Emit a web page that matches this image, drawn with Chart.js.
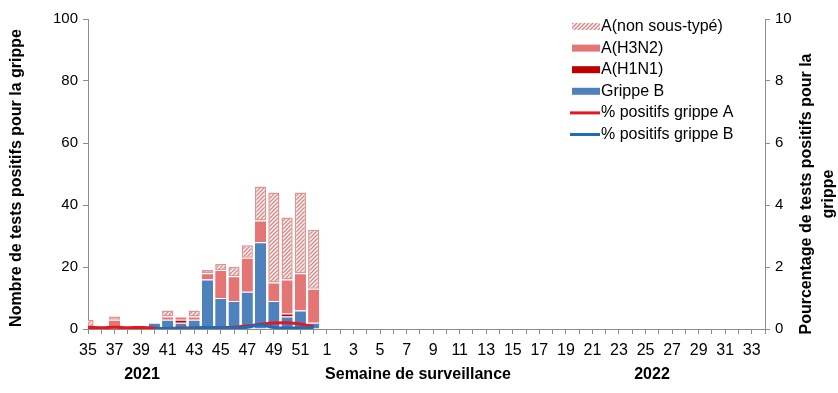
<!DOCTYPE html>
<html>
<head>
<meta charset="utf-8">
<script src="https://cdn.jsdelivr.net/npm/chart.js@4"></script>
<style>
  html, body { margin: 0; padding: 0; background: #fff; }
  #wrap { width: 838px; height: 393px; }
</style>
</head>
<body>
<div id="wrap"><canvas id="chart" width="838" height="393"></canvas></div>
<script>
// weeks 35..52 of 2021 then 1..34 of 2022
const weeks = ['35','36','37','38','39','40','41','42','43','44','45','46','47','48','49','50','51','52',
  '1','2','3','4','5','6','7','8','9','10','11','12','13','14','15','16','17','18','19','20',
  '21','22','23','24','25','26','27','28','29','30','31','32','33','34'];

// counts per week (weeks 35..52), later weeks have no data yet
const grippeB   = [0, 0, 0, 0, 0, 2, 3, 2, 3, 16, 10, 9, 12, 28, 9, 4, 6, 2];
const aH1N1     = [0, 0, 0, 0, 1, 0, 0, 1, 0, 0, 0, 0, 0, 0, 0, 1, 0, 0];
const aH3N2     = [1, 0, 3, 0, 0, 0, 1, 1, 1, 2, 9, 8, 11, 7, 6, 11, 12, 11];
const aNonSous  = [2, 0, 1, 0, 0, 0, 2, 0, 2, 1, 2, 3, 4, 11, 29, 20, 26, 19];

// % positives (right axis)
const pctA = [0.05, 0.04, 0.06, 0.04, 0.05, 0.03, 0.02, 0.03, 0.03, 0.04, 0.05, 0.06, 0.1, 0.15, 0.19, 0.2, 0.16, 0.07];
const pctB = [null, null, null, null, null, 0.01, 0.02, 0.02, 0.03, 0.05, 0.04, 0.04, 0.06, 0.13, 0.05, 0.03, 0.04, 0.03];

const leftTicks = [0, 20, 40, 60, 80, 100];
const rightTicks = [0, 2, 4, 6, 8, 10];

const FONT = "'Liberation Sans', Arial, sans-serif";
const AXIS = '#8c8c8c';

function pad(arr) {
    return weeks.map((w, i) => (i < arr.length ? arr[i] : null));
}

// hatch pattern for A(non sous-typé)
function hatch() {
    const c = document.createElement('canvas');
    c.width = 4; c.height = 4;
    const g = c.getContext('2d');
    g.fillStyle = '#ffffff';
    g.fillRect(0, 0, 4, 4);
    g.strokeStyle = '#de8886';
    g.lineWidth = 1.5;
    g.beginPath();
    g.moveTo(-1, 5); g.lineTo(5, -1);
    g.moveTo(-1, 1); g.lineTo(1, -1);
    g.moveTo(3, 5); g.lineTo(5, 3);
    g.stroke();
    return g.createPattern(c, 'repeat');
}
const hatchFill = hatch();

const sepBorder = { top: 1, right: 0, bottom: 0, left: 0 };

const legendItems = [
    { label: 'A(non sous-typé)', kind: 'hatch' },
    { label: 'A(H3N2)', kind: 'bar', color: '#e57574' },
    { label: 'A(H1N1)', kind: 'bar', color: '#c00000' },
    { label: 'Grippe B', kind: 'bar', color: '#4f81bd' },
    { label: '% positifs grippe A', kind: 'line', color: '#e8151c' },
    { label: '% positifs grippe B', kind: 'line', color: '#1f6db8' }
];

// titles and legend drawn by hand to sit where the original has them
const decorations = {
    id: 'decorations',
    afterDraw(chart) {
        const ctx = chart.ctx;
        ctx.save();
        ctx.fillStyle = '#000';
        ctx.textAlign = 'center';
        ctx.textBaseline = 'middle';
        ctx.font = 'bold 16px ' + FONT;

        ctx.save();
        ctx.translate(17, 178);
        ctx.rotate(-Math.PI / 2);
        ctx.fillText('Nombre de tests positifs pour la grippe', 0, 0);
        ctx.restore();

        ctx.save();
        ctx.translate(807, 194);
        ctx.rotate(-Math.PI / 2);
        ctx.fillText('Pourcentage de tests positifs pour la', 0, 0);
        ctx.fillText('grippe', 0, 22);
        ctx.restore();

        ctx.fillText('2021', 142, 375);
        ctx.fillText('Semaine de surveillance', 418, 375);
        ctx.fillText('2022', 652, 375);

        // legend
        ctx.textAlign = 'left';
        ctx.font = '16px ' + FONT;
        legendItems.forEach((it, i) => {
            const y = 26.5 + i * 21.6;
            if (it.kind === 'line') {
                ctx.strokeStyle = it.color;
                ctx.lineWidth = 3;
                ctx.beginPath();
                ctx.moveTo(570, y);
                ctx.lineTo(600, y);
                ctx.stroke();
            } else if (it.kind === 'hatch') {
                ctx.fillStyle = hatchFill;
                ctx.fillRect(572, y - 3.5, 28, 7);
            } else {
                ctx.fillStyle = it.color;
                ctx.fillRect(572, y - 3.5, 28, 7);
            }
            ctx.fillStyle = '#000';
            ctx.fillText(it.label, 601, y);
        });
        ctx.restore();
    }
};

new Chart(document.getElementById('chart'), {
    type: 'bar',
    data: {
        labels: weeks,
        datasets: [
            { label: 'Grippe B', data: pad(grippeB), backgroundColor: '#4f81bd',
              borderColor: 'rgba(255,255,255,0.7)', borderWidth: sepBorder, borderSkipped: false, order: 3 },
            { label: 'A(H1N1)', data: pad(aH1N1), backgroundColor: '#c00000',
              borderColor: 'rgba(255,255,255,0.7)', borderWidth: sepBorder, borderSkipped: false, order: 3 },
            { label: 'A(H3N2)', data: pad(aH3N2), backgroundColor: '#e57574',
              borderColor: 'rgba(255,255,255,0.7)', borderWidth: sepBorder, borderSkipped: false, order: 3 },
            { label: 'A(non sous-typé)', data: pad(aNonSous), backgroundColor: hatchFill,
              borderColor: '#d99694', borderWidth: 1.5, borderSkipped: false, order: 3 },
            { type: 'line', label: '% positifs grippe A', data: pad(pctA), yAxisID: 'y2',
              borderColor: '#e8151c', borderWidth: 3, pointRadius: 0, tension: 0.4, order: 2 },
            { type: 'line', label: '% positifs grippe B', data: pad(pctB), yAxisID: 'y2',
              borderColor: '#1f6db8', borderWidth: 3, pointRadius: 0, tension: 0.4, order: 1 }
        ]
    },
    options: {
        responsive: false,
        animation: false,
        layout: { padding: { top: 19, left: 0, right: 0, bottom: 0 } },
        datasets: { bar: { categoryPercentage: 1, barPercentage: 0.84 } },
        plugins: {
            legend: { display: false },
            tooltip: { enabled: false }
        },
        scales: {
            x: {
                stacked: true,
                offset: false,
                grid: { display: true, drawOnChartArea: false, offset: false, color: AXIS, tickLength: 5 },
                border: { color: AXIS, width: 1 },
                ticks: {
                    autoSkip: false,
                    maxRotation: 0,
                    padding: 7,
                    color: '#000',
                    font: { family: FONT, size: 16 },
                    callback: (v, i) => (i % 2 === 0 ? weeks[i] : '')
                },
                afterFit: s => { s.height = 64; }
            },
            y: {
                stacked: true,
                min: 0, max: 100,
                afterBuildTicks: s => { s.ticks = leftTicks.map(v => ({ value: v })); },
                grid: { drawOnChartArea: false, color: AXIS, tickLength: 5 },
                border: { color: AXIS, width: 1 },
                ticks: { padding: 5, color: '#000', font: { family: FONT, size: 15 } },
                afterFit: s => { s.width = 88; }
            },
            y2: {
                position: 'right',
                min: 0, max: 10,
                afterBuildTicks: s => { s.ticks = rightTicks.map(v => ({ value: v })); },
                grid: { drawOnChartArea: false, color: AXIS, tickLength: 5 },
                border: { color: AXIS, width: 1 },
                ticks: { padding: 5, color: '#000', font: { family: FONT, size: 15 } },
                afterFit: s => { s.width = 73; }
            }
        }
    },
    plugins: [decorations]
});
</script>
</body>
</html>
